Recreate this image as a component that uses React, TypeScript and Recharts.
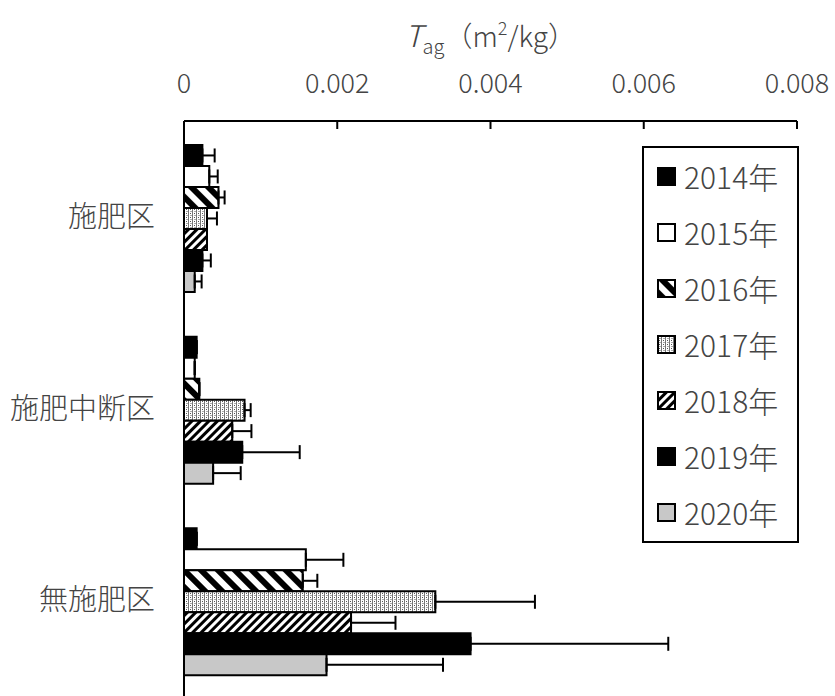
import React from 'react';
import { BarChart, Bar, XAxis, YAxis, ErrorBar } from 'recharts';

// Tag (m2/kg) by plot and year
const categories = ['施肥区', '施肥中断区', '無施肥区'];
const years = ['2014年', '2015年', '2016年', '2017年', '2018年', '2019年', '2020年'];
const xTicks = [0, 0.002, 0.004, 0.006, 0.008];

const v2014 = [0.00024, 0.000165, 0.000165];
const v2015 = [0.00033, 0.00014, 0.00159];
const v2016 = [0.00045, 0.0002, 0.00155];
const v2017 = [0.0003, 0.00079, 0.00328];
const v2018 = [0.0003, 0.00063, 0.00218];
const v2019 = [0.00024, 0.00076, 0.00374];
const v2020 = [0.00014, 0.00038, 0.00186];

// upper error only
const e2014 = [0.00016, 0, 0];
const e2015 = [0.00011, 0, 0.00049];
const e2016 = [0.00008, 0, 0.00019];
const e2017 = [0.00013, 0.00008, 0.0013];
const e2018 = [0, 0.00025, 0.00058];
const e2019 = [0.00011, 0.00075, 0.00258];
const e2020 = [0.00009, 0.00036, 0.00152];

const values = [v2014, v2015, v2016, v2017, v2018, v2019, v2020];
const errors = [e2014, e2015, e2016, e2017, e2018, e2019, e2020];

const FILLS = ['#000', '#fff', 'url(#p2016)', 'url(#p2017)', 'url(#p2018)', '#000', '#c8c8c8'];

const data = categories.map((name, i) => {
  const row: Record<string, any> = { name };
  years.forEach((y, k) => {
    row[`y${k}`] = values[k][i];
    row[`e${k}`] = [0, errors[k][i]];
  });
  return row;
});

const FONT = '"Noto Sans CJK JP", "Noto Sans", sans-serif';
const TEXT = '#444';
const TICK_GAP = 28;

const XTick = ({ x, y, payload }: any) => (
  <g>
    {payload.value !== 0 && (
      <line x1={x} x2={x} y1={y + TICK_GAP} y2={y + TICK_GAP + 8} stroke="#000" strokeWidth={2} />
    )}
    <text x={x} y={y} textAnchor="middle" fontSize={27} fill={TEXT} fontFamily={FONT} fontWeight={300}>
      {payload.value === 0 ? '0' : payload.value.toFixed(3)}
    </text>
  </g>
);

const AxisTitle = ({ viewBox }: any) => {
  const cx = viewBox.x + viewBox.width / 2;
  return (
    <text x={cx} y={47} textAnchor="middle" fill={TEXT} fontFamily={FONT} fontSize={28} fontWeight={300}>
      <tspan fontStyle="italic" fontSize={30}>T</tspan>
      <tspan fontSize={20} dy={7}>ag</tspan>
      <tspan dy={-7}>（m</tspan>
      <tspan fontSize={18} dy={-12}>2</tspan>
      <tspan dy={12}>/kg）</tspan>
    </text>
  );
};

function Patterns() {
  return (
    <svg width={0} height={0} style={{ position: 'absolute' }}>
      <defs>
        <pattern id="p2016" width={12} height={12} patternUnits="userSpaceOnUse" patternTransform="rotate(-45)">
          <rect width={12} height={12} fill="#fff" />
          <rect width={6} height={12} fill="#000" />
        </pattern>
        <pattern id="p2017" width={4} height={4} patternUnits="userSpaceOnUse">
          <rect width={4} height={4} fill="#fff" />
          <rect width={1} height={4} fill="#777" />
          <rect x={2} y={1} width={1} height={1} fill="#555" />
          <rect x={2} y={3} width={2} height={1} fill="#aaa" />
        </pattern>
        <pattern id="p2018" width={6} height={6} patternUnits="userSpaceOnUse" patternTransform="rotate(45)">
          <rect width={6} height={6} fill="#fff" />
          <rect width={3} height={6} fill="#000" />
        </pattern>
      </defs>
    </svg>
  );
}

function YearLegend() {
  return (
    <div
      style={{
        position: 'absolute',
        left: 642,
        top: 146,
        width: 157,
        height: 397,
        boxSizing: 'border-box',
        border: '2px solid #000',
        background: '#fff',
        fontFamily: FONT,
        color: TEXT,
      }}
    >
      {years.map((y, k) => (
        <div key={y} style={{ display: 'flex', alignItems: 'center', height: 56, paddingLeft: 13 }}>
          <svg width={19} height={19} style={{ marginRight: 8 }}>
            <rect x={1} y={1} width={17} height={17} fill={FILLS[k]} stroke="#000" strokeWidth={2} />
          </svg>
          <span style={{ fontSize: 30, lineHeight: '30px', fontWeight: 300 }}>{y}</span>
        </div>
      ))}
    </div>
  );
}

export default function App() {
  return (
    <div style={{ position: 'absolute', left: 0, top: 0, width: 835, height: 696, background: '#fff' }}>
      <Patterns />
      <BarChart
        width={835}
        height={696}
        data={data}
        layout="vertical"
        margin={{ top: 0, right: 38, bottom: 0, left: 0 }}
        barCategoryGap="12.5%"
        barGap={0}
      >
        <XAxis
          type="number"
          orientation="top"
          domain={[0, 0.008]}
          ticks={xTicks}
          height={121}
          tickSize={0}
          tickMargin={TICK_GAP}
          tickLine={false}
          axisLine={{ stroke: '#000', strokeWidth: 2 }}
          tick={<XTick />}
          label={{ content: <AxisTitle /> }}
          interval={0}
        />
        <YAxis
          type="category"
          dataKey="name"
          width={184}
          tickLine={false}
          tickMargin={23}
          axisLine={{ stroke: '#000', strokeWidth: 2 }}
          tick={{ fontSize: 29, fill: TEXT, fontFamily: FONT, fontWeight: 300 }}
        />
        {years.map((y, k) => (
          <Bar
            key={y}
            dataKey={`y${k}`}
            name={y}
            fill={FILLS[k]}
            stroke="#000"
            strokeWidth={2}
            isAnimationActive={false}
          >
            <ErrorBar dataKey={`e${k}`} direction="x" width={7} stroke="#000" strokeWidth={2} />
          </Bar>
        ))}
      </BarChart>
      <YearLegend />
    </div>
  );
}
